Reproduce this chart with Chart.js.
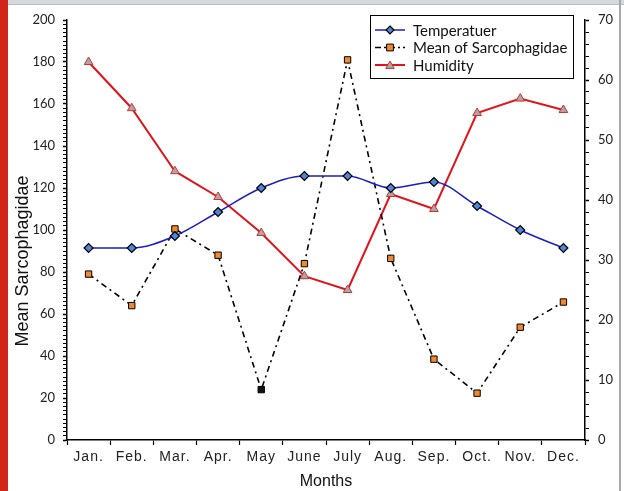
<!DOCTYPE html>
<html>
<head>
<meta charset="utf-8">
<script src="https://cdn.jsdelivr.net/npm/chart.js@4.4.1/dist/chart.umd.min.js"></script>
<style>
  html, body { margin:0; padding:0; background:#fff; }
  #wrap { position:relative; width:624px; height:491px; overflow:hidden; }
  canvas { position:absolute; left:0; top:0; }
  .redbar { position:absolute; left:0; top:0; width:8px; height:491px; background:#d3241a; z-index:3; }
  .topbar { position:absolute; left:8px; top:0; width:616px; height:4px; background:#d4d8dc; border-bottom:1px solid #b8bcc0; z-index:2; }
  .rightline { position:absolute; left:619px; top:0; width:2px; height:491px; background:#a8a8a8; z-index:2; }
</style>
</head>
<body>
<div id="wrap">
  <canvas id="c" width="624" height="491"></canvas>
  <div class="redbar"></div>
  <div class="topbar"></div>
  <div class="rightline"></div>
</div>
<script>
const months = ["Jan.", "Feb.", "Mar.", "Apr.", "May", "June", "July", "Aug.", "Sep.", "Oct.", "Nov.", "Dec."];
const temperature = [32, 32, 34, 38, 42, 44, 44, 42, 43, 39, 35, 32];
const meanSarcophagidae = [79, 64, 100.5, 88, 24, 84, 181, 86.5, 38.5, 22.3, 53.7, 65.7];
const humidity = [63, 55.3, 44.8, 40.5, 34.5, 27.3, 25, 41, 38.5, 54.5, 56.9, 55];
const seriesNames = ["Temperatuer", "Mean of Sarcophagidae", "Humidity"];
const leftAxisTitle = "Mean Sarcophagidae";
const bottomAxisTitle = "Months";

const meanPointColors = meanSarcophagidae.map((v, i) => i === 4 ? "#111111" : "#f08a2c");

function drawMarker(ctx, style, x, y, r, fill, stroke, lw) {
  ctx.save();
  ctx.fillStyle = fill; ctx.strokeStyle = stroke; ctx.lineWidth = lw;
  ctx.setLineDash([]);
  ctx.beginPath();
  if (style === 'rectRot') {
    ctx.moveTo(x, y - r); ctx.lineTo(x + r, y); ctx.lineTo(x, y + r); ctx.lineTo(x - r, y); ctx.closePath();
  } else if (style === 'rect') {
    const s = r * 0.85;
    ctx.rect(x - s, y - s, 2 * s, 2 * s);
  } else if (style === 'triangle') {
    ctx.moveTo(x, y - r); ctx.lineTo(x + r * 0.95, y + r * 0.65); ctx.lineTo(x - r * 0.95, y + r * 0.65); ctx.closePath();
  }
  ctx.fill(); ctx.stroke();
  ctx.restore();
}

const extrasPlugin = {
  id: 'extras',
  beforeDraw(chart) {
    const xs = chart.scales.x;
    if (xs && !xs._lsPatched) {
      const orig = xs.drawLabels.bind(xs);
      xs.drawLabels = function (area) {
        const ctx = this.ctx; ctx.save();
        try { ctx.letterSpacing = '1px'; } catch (e) {}
        orig(area); ctx.restore();
      };
      xs._lsPatched = true;
    }
  },
  afterDraw(chart) {
    const ctx = chart.ctx;
    const ya = chart.scales.y;
    // left axis title
    ctx.save();
    ctx.translate(23, (ya.top + ya.bottom) / 2 + 31);
    ctx.rotate(-Math.PI / 2);
    ctx.font = '18px "Liberation Sans", Arial, sans-serif';
    ctx.fillStyle = '#111';
    ctx.textAlign = 'center'; ctx.textBaseline = 'middle';
    ctx.fillText(leftAxisTitle, 0, 0);
    ctx.restore();
    // legend box
    const bx = 370.5, by = 15.5, bw = 203, bh = 63;
    ctx.save();
    ctx.fillStyle = '#fff'; ctx.fillRect(bx, by, bw, bh);
    ctx.strokeStyle = '#000'; ctx.lineWidth = 1; ctx.strokeRect(bx, by, bw, bh);
    const rows = [30, 47.5, 65];
    const ds = chart.data.datasets;
    ctx.font = '15px Lato, "Open Sans", sans-serif';
    ctx.textBaseline = 'middle'; ctx.textAlign = 'left';
    // temperature
    ctx.strokeStyle = ds[0].borderColor; ctx.lineWidth = 1.5; ctx.setLineDash([]);
    ctx.beginPath(); ctx.moveTo(375, rows[0]); ctx.lineTo(405, rows[0]); ctx.stroke();
    drawMarker(ctx, 'rectRot', 390, rows[0], 4, '#4f86d8', '#000', 1.2);
    // mean
    ctx.strokeStyle = '#000'; ctx.lineWidth = 1.5; ctx.setLineDash([6, 3, 2, 3]);
    ctx.beginPath(); ctx.moveTo(375, rows[1]); ctx.lineTo(405, rows[1]); ctx.stroke();
    ctx.setLineDash([]);
    drawMarker(ctx, 'rect', 390, rows[1], 4, '#f08a2c', '#000', 1);
    // humidity
    ctx.strokeStyle = ds[2].borderColor; ctx.lineWidth = 2;
    ctx.beginPath(); ctx.moveTo(375, rows[2]); ctx.lineTo(405, rows[2]); ctx.stroke();
    drawMarker(ctx, 'triangle', 390, rows[2] + 0.5, 4.5, '#a8a8a8', '#d03030', 1);
    ctx.fillStyle = '#111';
    for (let i = 0; i < 3; i++) ctx.fillText(ds[i].label, 413, rows[i] + 1);
    ctx.restore();
  }
};

const tickFont = { family: 'Lato, "Open Sans", sans-serif', size: 13 };

new Chart(document.getElementById('c'), {
  type: 'line',
  data: {
    labels: months,
    datasets: [
      {
        label: seriesNames[0], data: temperature, yAxisID: 'y1',
        borderColor: '#1c1cc8', borderWidth: 1.5, cubicInterpolationMode: 'monotone',
        pointStyle: 'rectRot', pointRadius: 4.5, pointBackgroundColor: '#4f86d8',
        pointBorderColor: '#000', pointBorderWidth: 1.2, order: 1
      },
      {
        label: seriesNames[1], data: meanSarcophagidae, yAxisID: 'y',
        borderColor: '#000', borderWidth: 1.6, borderDash: [6, 4, 2, 4], tension: 0,
        pointStyle: 'rect', pointRadius: 4.5, pointBackgroundColor: meanPointColors,
        pointBorderColor: '#000', pointBorderWidth: 1, order: 2
      },
      {
        label: seriesNames[2], data: humidity, yAxisID: 'y1',
        borderColor: '#e0141a', borderWidth: 2, tension: 0,
        pointStyle: 'triangle', pointRadius: 5, pointBackgroundColor: '#a8a8a8',
        pointBorderColor: '#d03030', pointBorderWidth: 1, order: 3
      }
    ]
  },
  options: {
    responsive: false,
    animation: false,
    events: [],
    layout: { padding: { top: 20, left: 0, right: 0, bottom: 0 } },
    plugins: { legend: { display: false }, tooltip: { enabled: false } },
    scales: {
      x: {
        offset: true,
        grid: { display: true, drawOnChartArea: false, offset: true, tickLength: 5, color: '#000', tickWidth: 1.2 },
        border: { display: true, color: '#000', width: 1.5 },
        ticks: { font: { family: '"Liberation Sans", Arial, sans-serif', size: 14 }, color: '#222', padding: 4, maxRotation: 0, autoSkip: false },
        title: { display: true, text: bottomAxisTitle, font: { family: '"Liberation Sans", Arial, sans-serif', size: 16 }, color: '#111', padding: { top: 0, bottom: 0 } },
        afterFit(s) { s.height = 51; }
      },
      y: {
        position: 'left', min: 0, max: 200,
        grid: { display: true, drawOnChartArea: false, tickLength: 4, color: '#000',
          tickWidth: (c) => (c.tick && c.tick.value % 20 === 0) ? 1.5 : 1 },
        border: { display: true, color: '#000', width: 1.5 },
        ticks: { stepSize: 2, autoSkip: false, font: tickFont, color: '#222', padding: 8,
          callback: (v) => (v % 20 === 0 ? String(v) : '') },
        afterFit(s) { s.width = 67; }
      },
      y1: {
        position: 'right', min: 0, max: 70,
        grid: { display: true, drawOnChartArea: false, tickLength: 4, color: '#000',
          tickWidth: (c) => (c.tick && c.tick.value % 10 === 0) ? 1.5 : 1 },
        border: { display: true, color: '#000', width: 1.5 },
        ticks: { stepSize: 2, autoSkip: false, font: tickFont, color: '#222', padding: 9,
          callback: (v) => (v % 10 === 0 ? String(v) : '') },
        afterFit(s) { s.width = 39; }
      }
    }
  },
  plugins: [extrasPlugin]
});
</script>
</body>
</html>
